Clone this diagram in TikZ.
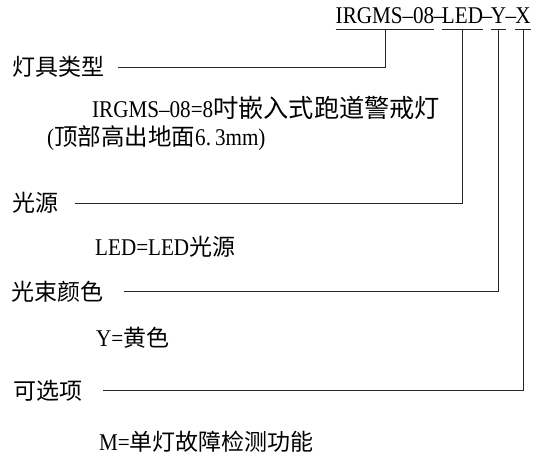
\documentclass[tikz,border=0pt]{standalone}
\usepackage{fontspec}
\newfontfamily\cjk{Noto Sans CJK SC}
\newfontfamily\lat[FakeStretch=0.88]{Liberation Serif}
\begin{document}
\begin{tikzpicture}[x=1pt,y=-1pt,
  tseg/.style={inner xsep=0pt, inner ysep=6pt, text depth=0pt, anchor=base,
    font=\lat\fontsize{24}{24}\selectfont},
  lab/.style={inner sep=0pt, anchor=base west, font=\cjk\fontsize{23}{24}\selectfont},
  desc/.style={inner sep=0pt, anchor=base west, font=\lat\fontsize{24}{24}\selectfont},
  rule/.style={line width=0.9pt, draw=black!85}]
\useasboundingbox[fill=white] (0,0) rectangle (537,461);

% title code segments
\node[tseg] (t1) at (385,23) {IRGMS\textendash 08};
\node[tseg] (d1) at (439,23) {\textendash};
\node[tseg] (t2) at (462.5,23) {LED};
\node[tseg] (d2) at (487,23) {\textendash};
\node[tseg] (t3) at (498.5,23) {Y};
\node[tseg] (d3) at (511,23) {\textendash};
\node[tseg] (t4) at (523,23) {X};

% labels
\node[lab] (l1) at (12,75) {灯具类型};
\node[lab] (l2) at (12,211) {光源};
\node[lab] (l3) at (11,300) {光束颜色};
\node[lab] (l4) at (13,399) {可选项};

% descriptions
\node[desc] (s1a) at (92,117) {IRGMS\textendash 08=8{\cjk\fontsize{25.2}{26}\selectfont 吋嵌入式跑道警戒灯}};
\node[desc] (s1b) at (47,145) {({\cjk\fontsize{23.5}{24}\selectfont 顶部高出地面}6.\,3mm)};
\node[desc] (s2) at (95,255) {LED=LED{\cjk\fontsize{23}{24}\selectfont 光源}};
\node[desc] (s3) at (96,346) {Y={\cjk\fontsize{23}{24}\selectfont 黄色}};
\node[desc] (s4) at (99,450) {M={\cjk\fontsize{23}{24}\selectfont 单灯故障检测功能}};

% line ends
\coordinate (e1) at (118,67);
\coordinate (e2) at (75,203);
\coordinate (e3) at (124,291);
\coordinate (e4) at (103,390);

% underlines
\foreach \n in {t1,t2,t3,t4}
  \draw[rule] (\n.south west) -- (\n.south east);

% connectors
\draw[rule] (t1.south) |- (e1);
\draw[rule] (t2.south) |- (e2);
\draw[rule] (t3.south) |- (e3);
\draw[rule] (t4.south) |- (e4);
\end{tikzpicture}
\end{document}
